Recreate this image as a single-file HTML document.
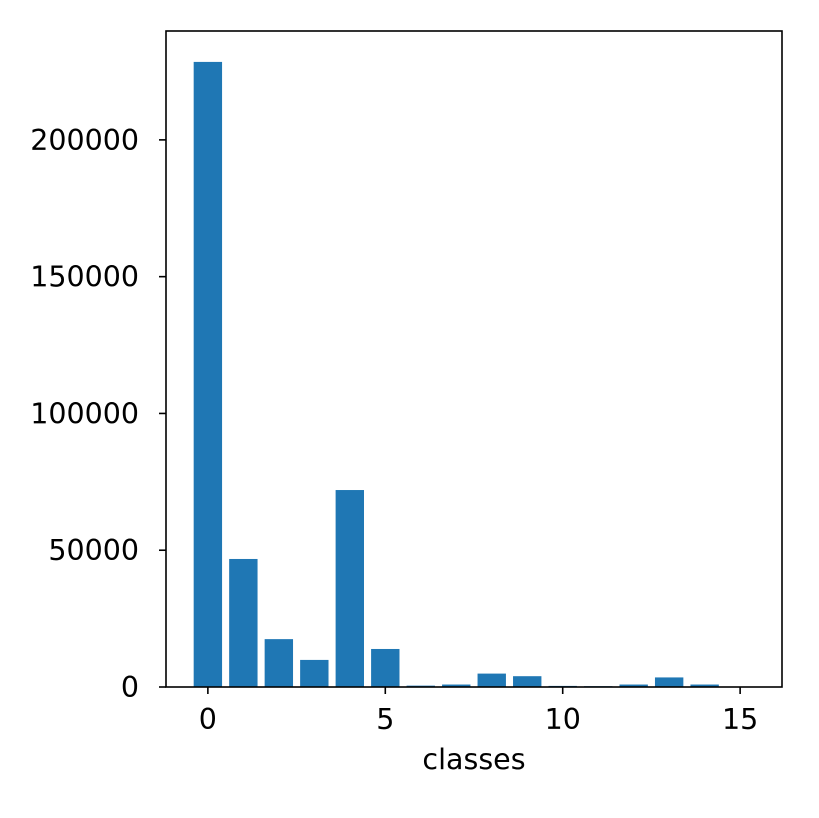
<!DOCTYPE html>
<html><head><meta charset="utf-8"><style>
html,body{margin:0;padding:0;background:#fff;}
svg text{font-family:"DejaVu Sans","Liberation Sans",sans-serif;font-size:28.5px;fill:#000;}
</style></head><body>
<svg id="chart" width="819" height="813"></svg>
<script>
const categories=[0,1,2,3,4,5,6,7,8,9,10,11,12,13,14,15];
const counts=[228500,46800,17500,9900,72000,13900,500,900,4900,3950,400,300,900,3500,900,50];
const xTicks=[0,5,10,15];
const yTicks=[0,50000,100000,150000,200000];
const L=166,R=782,T=31,B=687;
const xmin=-1.18,xmax=16.18,ymax=239800;
const sx=v=>L+(v-xmin)/(xmax-xmin)*(R-L);
const sy=v=>B-v/ymax*(B-T);
const svg=document.getElementById('chart');
const NS='http://www.w3.org/2000/svg';
function mk(t,a){const e=document.createElementNS(NS,t);for(const k in a)e.setAttribute(k,a[k]);svg.appendChild(e);return e;}
categories.forEach((c,i)=>{
  const x0=sx(c-0.4),x1=sx(c+0.4);
  const r=mk('rect',{x:x0,y:sy(counts[i]),width:x1-x0,height:B-sy(counts[i]),fill:'#1f77b4'});
  
  
});
const frame=mk('rect',{x:L,y:T,width:R-L,height:B-T,fill:'none',stroke:'#000','stroke-width':1.6});


xTicks.forEach(v=>{
  const x=sx(v);
  const l=mk('line',{x1:x,x2:x,y1:B,y2:B+7,stroke:'#000','stroke-width':1.6});
  
  
  const t=mk('text',{x:x,y:729,'text-anchor':'middle'});t.textContent=v;
  
  
});
yTicks.forEach(v=>{
  const y=sy(v);
  const l=mk('line',{x1:L-7,x2:L,y1:y,y2:y,stroke:'#000','stroke-width':1.6});
  
  
  const t=mk('text',{x:L-27,y:y+10,'text-anchor':'end'});t.textContent=v;
  
  
});
const xl=mk('text',{x:(L+R)/2,y:769,'text-anchor':'middle'});xl.textContent='classes';


</script>
</body></html>
